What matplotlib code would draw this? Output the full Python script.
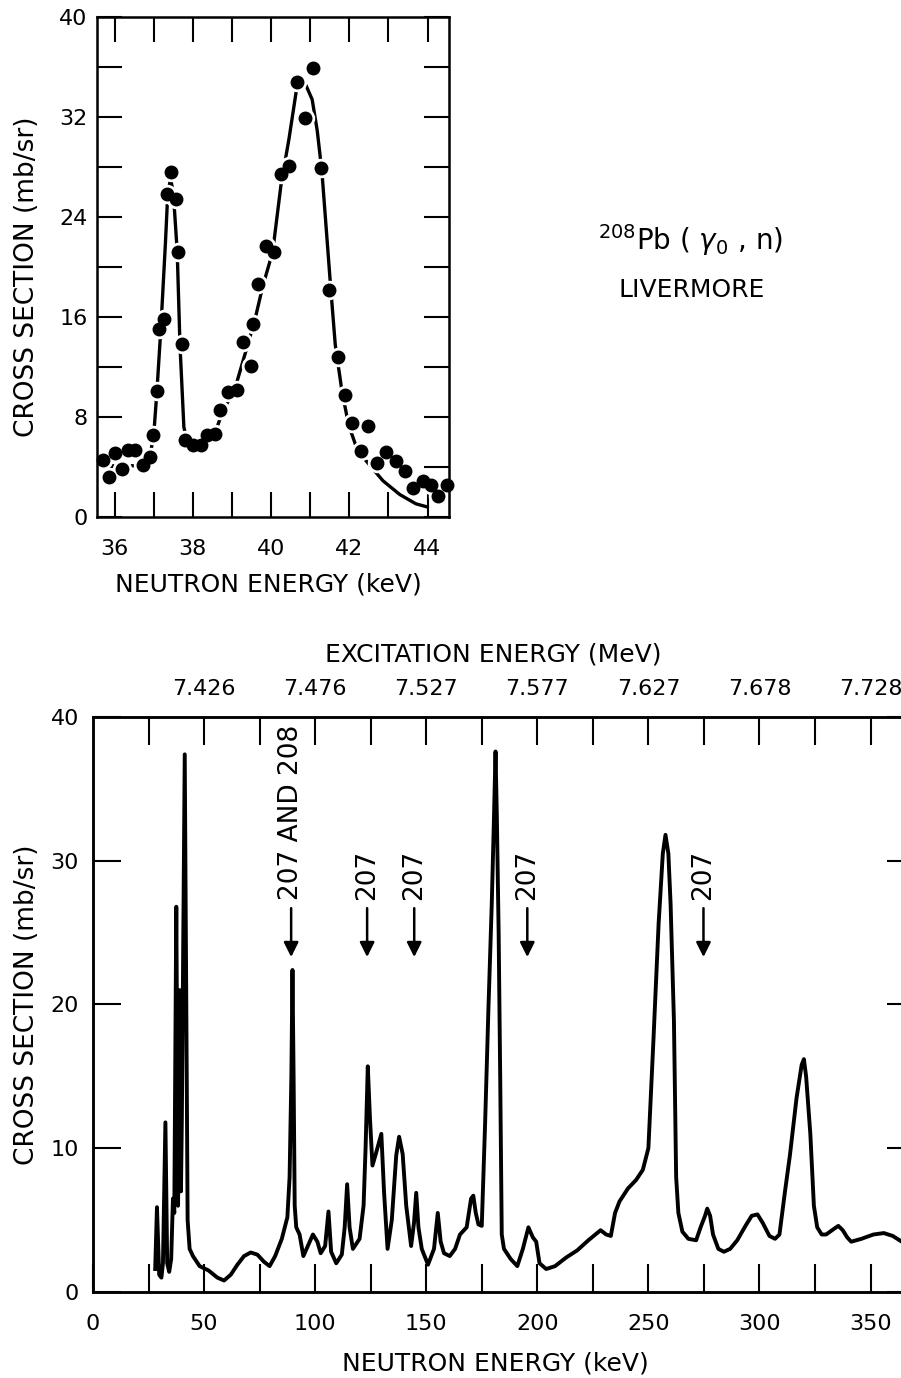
import matplotlib
matplotlib.use("Agg")
import matplotlib.pyplot as plt

plt.rcParams["font.family"] = ["DejaVu Sans"]
plt.rcParams["mathtext.fontset"] = "dejavusans"

# inset: measured points (keV, mb/sr)
inset_pts_e = [35.71, 35.86, 36.0, 36.19, 36.34, 36.52, 36.72, 36.91, 36.99, 37.08,
               37.14, 37.26, 37.35, 37.45, 37.56, 37.62, 37.71, 37.81, 38.0, 38.2,
               38.36, 38.57, 38.69, 38.9, 39.12, 39.28, 39.48, 39.55, 39.66, 39.87,
               40.07, 40.25, 40.46, 40.66, 40.87, 41.08, 41.28, 41.47, 41.71, 41.9,
               42.06, 42.3, 42.48, 42.71, 42.94, 43.2, 43.42, 43.63, 43.88, 44.09,
               44.26, 44.49]
inset_pts_xs = [4.55, 3.17, 5.1, 3.86, 5.38, 5.38, 4.14, 4.83, 6.57, 10.07,
                15.03, 15.86, 25.8, 27.6, 25.4, 21.2, 13.8, 6.2, 5.8, 5.8,
                6.57, 6.68, 8.55, 10.0, 10.2, 14.0, 12.1, 15.45, 18.6, 21.7,
                21.2, 27.4, 28.1, 34.8, 31.9, 35.9, 27.9, 18.15, 12.8, 9.8,
                7.5, 5.3, 7.3, 4.35, 5.2, 4.5, 3.7, 2.3, 2.9, 2.56,
                1.7, 2.56]

# inset: fitted curve
inset_fit_e = [35.58, 36.2, 36.72, 36.9, 37.0, 37.08, 37.18, 37.3, 37.36, 37.43,
               37.5, 37.6, 37.67, 37.77, 37.84, 38.0, 38.27, 38.57, 38.78, 39.07,
               39.33, 39.58, 39.79, 40.04, 40.25, 40.46, 40.65, 40.84, 41.05, 41.18,
               41.3, 41.52, 41.64, 41.81, 41.98, 42.19, 42.4, 42.86, 43.29, 43.7, 44.0]
inset_fit_xs = [4.1, 4.1, 4.1, 4.8, 6.6, 10.0, 15.0, 22.0, 26.0, 27.0,
                26.0, 21.2, 13.8, 7.2, 6.2, 5.65, 6.1, 6.8, 8.55, 10.2,
                13.0, 15.7, 18.5, 21.2, 26.5, 30.3, 34.2, 34.9, 33.4, 30.9,
                27.6, 18.5, 13.8, 10.1, 7.4, 5.5, 4.6, 2.9, 1.8, 1.06, 0.8]

# main spectrum
energy = [28.0, 28.8, 29.8, 30.8, 31.5, 32.6, 33.4, 34.3, 35.2, 36.0,
          36.6, 37.5, 38.3, 39.0, 39.6, 40.0, 41.3, 42.0, 42.6, 43.5,
          45.0, 48.0, 52.0, 56.0, 59.0, 62.0, 65.0, 68.0, 71.0, 74.0,
          77.0, 79.5, 82.0, 85.0, 87.5, 88.5, 89.3, 89.8, 90.3, 90.8,
          91.5, 93.0, 94.7, 97.0, 99.0, 101.0, 102.5, 104.5, 106.0, 107.2,
          109.5, 112.0, 113.3, 114.4, 115.5, 117.0, 120.0, 121.8, 122.7, 123.7,
          124.7, 125.8, 127.3, 129.8, 131.0, 132.6, 134.5, 136.5, 137.8, 139.4,
          141.0, 143.2, 144.5, 145.5, 146.5, 148.0, 150.8, 153.5, 155.2, 156.5,
          158.0, 160.6, 163.0, 165.2, 168.2, 170.2, 171.2, 172.3, 173.5, 175.0,
          176.5, 178.0, 179.5, 180.5, 181.2, 181.8, 182.6, 183.3, 184.0, 185.0,
          188.0, 191.0, 193.5, 196.0, 198.0, 199.5, 201.0, 204.0, 208.0, 213.0,
          218.0, 223.0, 228.5, 231.0, 233.1, 235.0, 237.0, 240.8, 244.5, 247.5,
          250.0, 252.3, 254.6, 256.5, 257.7, 259.0, 260.0, 261.5, 262.5, 263.5,
          265.3, 268.0, 271.5, 273.5, 275.5, 276.5, 277.8, 279.1, 281.5, 284.0,
          286.8, 290.0, 293.7, 296.5, 299.1, 301.5, 304.5, 307.0, 309.0, 311.5,
          313.7, 316.7, 319.0, 320.0, 321.0, 322.9, 324.5, 326.0, 328.0, 330.0,
          333.6, 335.5, 337.5, 339.5, 341.3, 345.9, 351.3, 356.0, 360.0, 364.0,
          368.0]
xsec = [1.6, 5.9, 1.2, 1.0, 2.0, 11.8, 2.0, 1.4, 2.3, 6.5,
        5.5, 26.8, 6.0, 21.0, 7.0, 12.0, 37.4, 20.0, 5.0, 3.0,
        2.5, 1.8, 1.5, 1.0, 0.8, 1.2, 1.9, 2.5, 2.75, 2.6,
        2.1, 1.8, 2.5, 3.7, 5.2, 8.0, 15.0, 22.4, 15.0, 6.0,
        4.5, 4.0, 2.5, 3.3, 4.0, 3.5, 2.7, 3.2, 5.6, 2.8,
        2.0, 2.6, 4.5, 7.5, 4.5, 3.0, 3.7, 6.0, 10.0, 15.7,
        12.0, 8.8, 9.6, 11.0, 7.0, 3.0, 5.0, 9.5, 10.8, 9.6,
        6.0, 3.2, 4.8, 6.9, 4.5, 3.0, 1.9, 3.0, 5.5, 3.5,
        2.7, 2.5, 3.0, 4.0, 4.5, 6.5, 6.7, 5.5, 4.7, 4.6,
        11.7, 19.7, 27.0, 33.0, 37.6, 33.0, 25.0, 15.0, 4.0, 3.0,
        2.3, 1.8, 3.0, 4.5, 3.8, 3.5, 2.0, 1.6, 1.8, 2.4,
        2.9, 3.6, 4.3, 4.0, 3.9, 5.5, 6.3, 7.2, 7.8, 8.5,
        10.0, 17.6, 25.6, 30.5, 31.8, 30.5, 27.0, 18.9, 8.0, 5.5,
        4.2, 3.7, 3.6, 4.5, 5.3, 5.8, 5.3, 4.0, 3.0, 2.8,
        3.0, 3.6, 4.6, 5.3, 5.4, 4.8, 3.9, 3.7, 4.0, 7.0,
        9.5, 13.5, 15.8, 16.2, 15.0, 11.0, 6.0, 4.5, 4.0, 4.0,
        4.4, 4.6, 4.3, 3.8, 3.5, 3.7, 4.0, 4.1, 3.9, 3.5,
        3.3]

# top axis: excitation energy labels at neutron energies
top_ticks = [50, 100, 150, 200, 250, 300, 350]
top_labels = ["7.426", "7.476", "7.527", "7.577", "7.627", "7.678", "7.728"]

# isotope markers
mark_e = [89.2, 123.4, 144.6, 195.5, 274.8]
mark_text = ["207 AND 208", "207", "207", "207", "207"]

FS = 16      # tick labels
FL = 18      # axis labels
LW = 1.8

fig = plt.figure(figsize=(9.01, 13.78), dpi=100)

# ---------- inset ----------
ax1 = fig.add_axes([0.1077, 0.6248, 0.3907, 0.3629])
ax1.plot(inset_fit_e, inset_fit_xs, color="black", lw=2.4, solid_capstyle="round")
ax1.plot(inset_pts_e, inset_pts_xs, "o", color="white", ms=13, clip_on=False)
ax1.plot(inset_pts_e, inset_pts_xs, "o", color="black", ms=9, clip_on=False)
ax1.set_xlim(35.55, 44.55)
ax1.set_ylim(0, 40)
ax1.set_xticks([36, 38, 40, 42, 44])
ax1.set_xticks([37, 39, 41, 43], minor=True)
ax1.set_yticks([0, 8, 16, 24, 32, 40])
ax1.set_yticks([4, 12, 20, 28, 36], minor=True)
ax1.tick_params(which="both", direction="in", length=18, width=1.5,
                top=True, right=True, labelsize=FS)
ax1.tick_params(axis="x", pad=16)
ax1.tick_params(axis="y", pad=7)
ax1.set_xlabel("NEUTRON ENERGY (keV)", fontsize=FL)
ax1.set_ylabel("CROSS SECTION (mb/sr)", fontsize=19)
ax1.xaxis.set_label_coords(0.486, -0.11)
ax1.yaxis.set_label_coords(-0.162, 0.48)
for s in ax1.spines.values():
    s.set_linewidth(LW)

fig.text(0.766, 0.826, r"$^{208}$Pb ( $\gamma_0$ , n)", fontsize=20, ha="center", va="center")
fig.text(0.768, 0.7896, "LIVERMORE", fontsize=FL, ha="center", va="center")

# ---------- main spectrum ----------
ax = fig.add_axes([0.1032, 0.0624, 0.9123, 0.4173])
ax.plot(energy, xsec, color="black", lw=2.8, solid_joinstyle="round")
ax.set_xlim(0, 370)
ax.set_ylim(0, 40)
ax.set_xticks(range(0, 351, 50))
ax.set_xticks(range(25, 370, 50), minor=True)
ax.set_yticks(range(0, 41, 10))
ax.tick_params(which="both", direction="in", length=20, width=1.5,
               right=True, labelsize=FS)
ax.tick_params(axis="x", pad=16)
ax.tick_params(axis="y", pad=10)
ax.set_xlabel("NEUTRON ENERGY (keV)", fontsize=FL)
ax.set_ylabel("CROSS SECTION (mb/sr)", fontsize=19)
ax.xaxis.set_label_coords(0.489, -0.104)
ax.yaxis.set_label_coords(-0.0645, 0.50)
for s in ax.spines.values():
    s.set_linewidth(LW)

for e, t in zip(mark_e, mark_text):
    ax.text(e, 27.3, t, rotation=90, ha="center", va="bottom", fontsize=19)
    ax.annotate("", xy=(e, 23.3), xytext=(e, 26.7),
                arrowprops=dict(arrowstyle="-|>", lw=1.8, color="black",
                                mutation_scale=22, shrinkA=0, shrinkB=0))

top = ax.twiny()
top.set_xlim(ax.get_xlim())
top.set_xticks(top_ticks)
top.set_xticklabels(top_labels)
top.set_xticks(range(25, 370, 50), minor=True)
top.tick_params(which="both", direction="in", length=20, width=1.5,
                labelsize=FS, pad=13)
top.set_xlabel("EXCITATION ENERGY (MeV)", fontsize=FL)
top.xaxis.set_label_coords(0.487, 1.097)
for s in top.spines.values():
    s.set_linewidth(LW)

fig.savefig("out.png", dpi=100)
